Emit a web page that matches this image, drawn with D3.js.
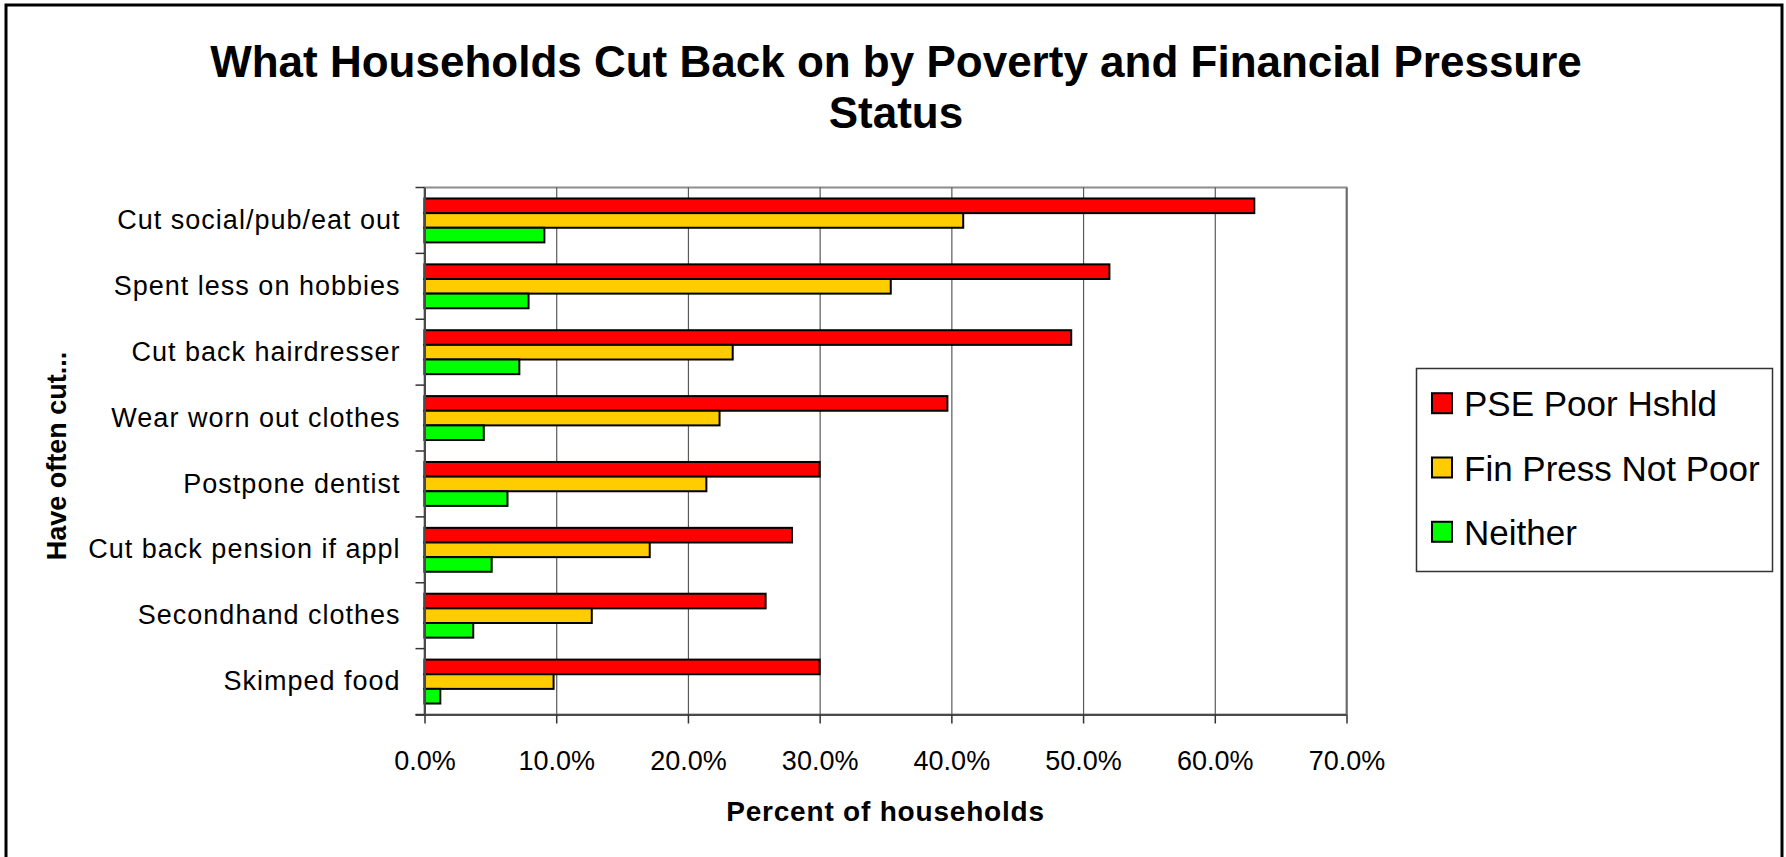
<!DOCTYPE html>
<html>
<head>
<meta charset="utf-8">
<script src="https://cdn.jsdelivr.net/npm/d3@7"></script>
<style>
  body { margin: 0; background: #fff; }
  svg { display: block; font-family: Arial, "Liberation Sans", sans-serif; }
</style>
</head>
<body>
<svg></svg>
<script>
const width = 1786;
const height = 857;

const categories = [
  'Cut social/pub/eat out',
  'Spent less on hobbies',
  'Cut back hairdresser',
  'Wear worn out clothes',
  'Postpone dentist',
  'Cut back pension if appl',
  'Secondhand clothes',
  'Skimped food'
];
const seriesNames = ['PSE Poor Hshld', 'Fin Press Not Poor', 'Neither'];
const pseValues = [63.0, 52.0, 49.1, 39.7, 30.0, 27.9, 25.9, 30.0];
const finValues = [40.9, 35.4, 23.4, 22.4, 21.4, 17.1, 12.7, 9.8];
const neitherValues = [9.1, 7.9, 7.2, 4.5, 6.3, 5.1, 3.7, 1.2];
const xTicks = [0, 10, 20, 30, 40, 50, 60, 70];
const colors = ['#ff0000', '#ffcc00', '#00ff00'];

const plot = { left: 424.5, right: 1346.5, top: 187.5, bottom: 714.5 };

const svg = d3.select('svg')
  .attr('width', width)
  .attr('height', height);

// outer chart frame (bottom edge runs off the picture)
svg.append('rect')
  .attr('x', 6).attr('y', 5)
  .attr('width', 1776).attr('height', 920)
  .attr('fill', '#fff')
  .attr('stroke', '#000')
  .attr('stroke-width', 3);

const title = svg.append('text')
  .attr('text-anchor', 'middle')
  .attr('font-size', 44)
  .attr('font-weight', 'bold');
title.append('tspan').attr('x', 896).attr('y', 77).text('What Households Cut Back on by Poverty and Financial Pressure');
title.append('tspan').attr('x', 896).attr('y', 128).text('Status');

const xScale = d3.scaleLinear()
  .domain([0, 70])
  .range([plot.left, plot.right]);

const yScale = d3.scaleBand()
  .domain(categories)
  .range([plot.top, plot.bottom])
  .paddingInner(1 / 3)
  .paddingOuter(1 / 6);

const subScale = d3.scaleBand()
  .domain(seriesNames)
  .range([0, yScale.bandwidth()]);

const rows = categories.map((c, i) => ({
  category: c,
  values: [pseValues[i], finValues[i], neitherValues[i]]
}));

// plot area border
svg.append('rect')
  .attr('x', plot.left).attr('y', plot.top)
  .attr('width', plot.right - plot.left)
  .attr('height', plot.bottom - plot.top)
  .attr('fill', '#fff')
  .attr('stroke', '#8c8c8c')
  .attr('stroke-width', 2);

// vertical gridlines
svg.append('g')
  .attr('transform', `translate(0,${plot.bottom})`)
  .call(d3.axisBottom(xScale).tickValues(xTicks).tickSize(-(plot.bottom - plot.top)).tickFormat(''))
  .call(g => g.select('.domain').remove())
  .call(g => g.selectAll('line').attr('stroke', '#5a5a5a').attr('stroke-width', 1.2));

// bars
svg.append('g')
  .selectAll('g')
  .data(rows)
  .enter()
  .append('g')
  .attr('transform', d => `translate(0,${yScale(d.category)})`)
  .selectAll('rect')
  .data(d => d.values.map((v, j) => ({ name: seriesNames[j], value: v, color: colors[j] })))
  .enter()
  .append('rect')
  .attr('x', xScale(0))
  .attr('y', d => subScale(d.name))
  .attr('width', d => xScale(d.value) - xScale(0))
  .attr('height', subScale.bandwidth())
  .attr('fill', d => d.color)
  .attr('stroke', '#000')
  .attr('stroke-width', 2);

// x axis
const xAxis = svg.append('g')
  .attr('transform', `translate(0,${plot.bottom})`)
  .call(d3.axisBottom(xScale).tickValues(xTicks).tickSize(9).tickPadding(27).tickFormat(d => d.toFixed(1) + '%'));
xAxis.select('.domain')
  .attr('d', `M${plot.left - 9},0.5H${plot.right}`)
  .attr('stroke', '#4a4a4a').attr('stroke-width', 2);
xAxis.selectAll('line').attr('stroke', '#333').attr('stroke-width', 1.5);
xAxis.selectAll('text')
  .attr('font-size', 27)
  .attr('font-family', 'Arial, "Liberation Sans", sans-serif')
  .attr('fill', '#000');

// y axis with category labels
const yAxis = svg.append('g')
  .attr('transform', `translate(${plot.left},0)`)
  .call(d3.axisLeft(yScale).tickSize(0).tickPadding(24));
yAxis.select('.domain').attr('stroke', '#4a4a4a').attr('stroke-width', 2);
yAxis.selectAll('text')
  .attr('font-size', 27)
  .attr('letter-spacing', 1)
  .attr('font-family', 'Arial, "Liberation Sans", sans-serif')
  .attr('fill', '#000');

// tick marks sit between categories
yAxis.selectAll('.sep')
  .data(d3.range(categories.length + 1))
  .enter()
  .append('line')
  .attr('class', 'sep')
  .attr('x1', -9).attr('x2', 0)
  .attr('y1', i => plot.top + i * yScale.step())
  .attr('y2', i => plot.top + i * yScale.step())
  .attr('stroke', '#333')
  .attr('stroke-width', 1.5);

// axis titles
svg.append('text')
  .attr('x', (plot.left + plot.right) / 2)
  .attr('y', 821)
  .attr('text-anchor', 'middle')
  .attr('font-size', 28)
  .attr('font-weight', 'bold')
  .attr('letter-spacing', 0.8)
  .text('Percent of households');

svg.append('text')
  .attr('transform', 'translate(66,456) rotate(-90)')
  .attr('text-anchor', 'middle')
  .attr('font-size', 27)
  .attr('font-weight', 'bold')
  .text('Have often cut...');

// legend
const legend = svg.append('g');
legend.append('rect')
  .attr('x', 1416.5).attr('y', 368.5)
  .attr('width', 356).attr('height', 203)
  .attr('fill', '#fff')
  .attr('stroke', '#333')
  .attr('stroke-width', 1.5);

const legendRow = d3.scaleBand()
  .domain(seriesNames)
  .range([369, 567])
  .paddingOuter(0.04);

const item = legend.selectAll('.item')
  .data(seriesNames)
  .enter()
  .append('g')
  .attr('class', 'item')
  .attr('transform', d => `translate(0,${legendRow(d) + legendRow.bandwidth() / 2})`);

item.append('rect')
  .attr('x', 1432).attr('y', -10.5)
  .attr('width', 20).attr('height', 20)
  .attr('fill', (d, i) => colors[i])
  .attr('stroke', '#000')
  .attr('stroke-width', 2);

item.append('text')
  .attr('x', 1464)
  .attr('y', 12.5)
  .attr('font-size', 35)
  .text(d => d);
</script>
</body>
</html>
